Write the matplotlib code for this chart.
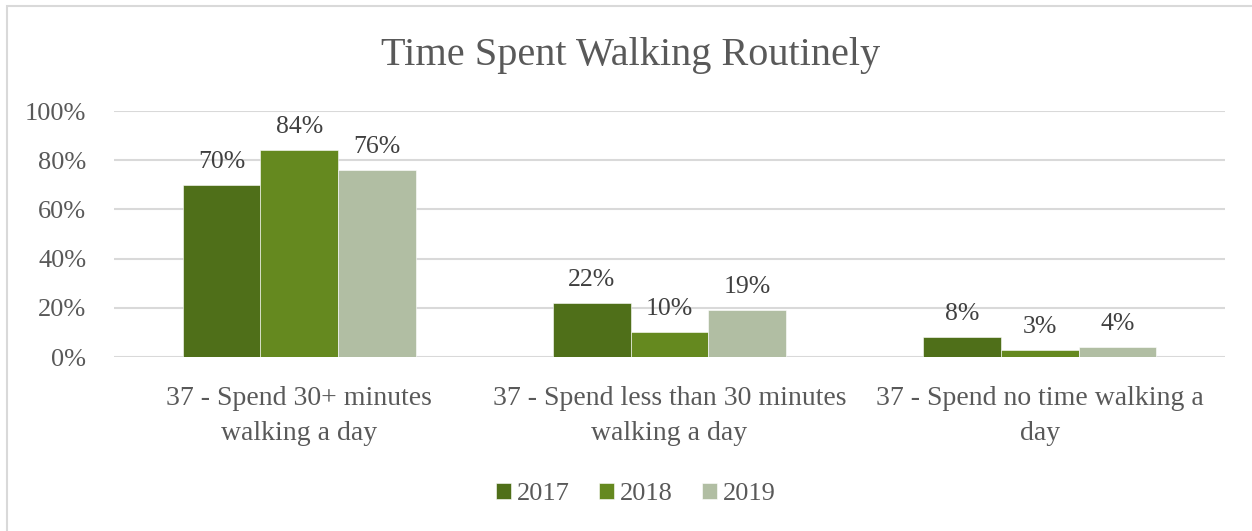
import numpy as np
import matplotlib
matplotlib.use("Agg")
import matplotlib.pyplot as plt
from matplotlib.patches import Rectangle

# data
categories = ["37 - Spend 30+ minutes\nwalking a day",
              "37 - Spend less than 30 minutes\nwalking a day",
              "37 - Spend no time walking a\nday"]
years = ["2017", "2018", "2019"]
vals_2017 = [0.70, 0.22, 0.08]
vals_2018 = [0.84, 0.10, 0.03]
vals_2019 = [0.76, 0.19, 0.04]
yticks = [0, 0.2, 0.4, 0.6, 0.8, 1.0]

colors = ["#4f6f19", "#65891f", "#b1bea3"]
txt = "#595959"

plt.rcParams['font.family'] = ['Liberation Serif', 'DejaVu Serif']

fig = plt.figure(figsize=(12.52, 5.31), dpi=100)
ax = fig.add_axes([114/1252, 174/531, (1225-114)/1252, (357-111)/531])

x = np.arange(len(categories))
w = 0.21
series = [vals_2017, vals_2018, vals_2019]
for i, (yr, vals) in enumerate(zip(years, series)):
    bars = ax.bar(x + (i - 1) * w, vals, w, color=colors[i], label=yr,
                  edgecolor="white", linewidth=0.4, zorder=3)
    for b, v in zip(bars, vals):
        ax.annotate(f"{v*100:.0f}%", (b.get_x() + b.get_width()/2, v),
                    xytext=(0, 16.5), textcoords="offset points",
                    ha="center", va="center", fontsize=18.5, color="#404040", zorder=4)

ax.set_xlim(-0.5, 2.5)
ax.set_ylim(0, 1)
ax.set_yticks(yticks)
ax.set_yticklabels([f"{t*100:.0f}%" for t in yticks], fontsize=19, color=txt)
ax.set_xticks(x)
ax.set_xticklabels(categories, fontsize=20, color=txt, linespacing=1.5)
ax.tick_params(axis="both", length=0)
ax.tick_params(axis="y", pad=20)
ax.tick_params(axis="x", pad=21)
ax.grid(axis="y", color="#d9d9d9", linewidth=1.5, zorder=0)
for s in ax.spines.values():
    s.set_visible(False)

fig.text(631/1252, 1 - 56/531, "Time Spent Walking Routinely", ha="center", va="center",
         fontsize=29, color=txt)

leg = fig.legend(loc="center", bbox_to_anchor=(636/1252, 1 - 494/531), ncol=3,
                 frameon=False, fontsize=19, handlelength=0.55, handleheight=0.55,
                 handletextpad=0.25, columnspacing=1.1)
for t in leg.get_texts():
    t.set_color(txt)

# outer chart border
fig.add_artist(Rectangle((7/1252, -0.2), 1.2, 1.2 - 6/531, transform=fig.transFigure,
                         fill=False, edgecolor="#d9d9d9", linewidth=1.5))

fig.savefig("out.png", dpi=100)
